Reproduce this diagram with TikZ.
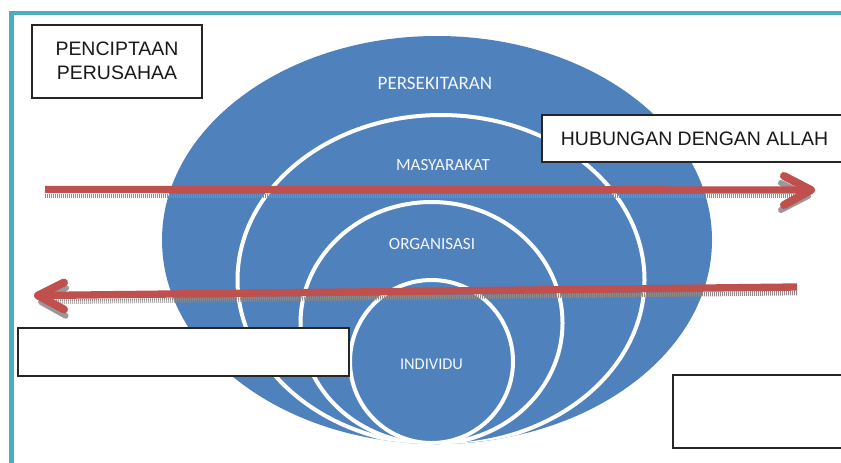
\documentclass[tikz,border=0pt]{standalone}
\usepackage{fontspec}
\setmainfont{Liberation Sans}
\newfontfamily\carl{Carlito}
\usetikzlibrary{calc}
\definecolor{blu}{HTML}{4F81BD}
\definecolor{teal}{HTML}{4BACC6}
\definecolor{arrred}{HTML}{C0504D}
\begin{document}
\begin{tikzpicture}[x=0.75pt,y=-0.75pt,
  ring/.style={draw=white, line width=3pt, fill=blu},
  lbl/.style={text=white!93!blu, font=\carl, inner sep=0pt},
  box/.style={draw=black!85, line width=1.1pt, fill=white, inner sep=0pt},
  boxtxt/.style={text=black!90, inner sep=0pt, align=center, font=\fontsize{14.6pt}{18pt}\selectfont},
  redarrow/.style={draw=arrred, line width=5.5pt, line join=round},
  chev/.style={draw=arrred, line width=6pt, line cap=round, line join=round},
  shad/.style={draw=black!45, line width=3.5pt, dash pattern=on 0.6pt off 0.9pt},
  shadchev/.style={draw=black!40, line width=4.5pt, dash pattern=on 0.6pt off 0.9pt, line cap=round, line join=round}]
\useasboundingbox (0,0) rectangle (841,462);
\fill[white] (0,0) rectangle (841,462);
% frame
\draw[teal, line width=3.4pt] (11.5,13) -- (860,13);
\draw[teal, line width=3.6pt] (11.5,11) -- (11.5,480);
% venn
\fill[blu] (437,240) ellipse [x radius=275, y radius=204];
\begin{scope}
  \clip (437,240) ellipse [x radius=275, y radius=204];
  \draw[ring] (441,280) ellipse [x radius=203.5, y radius=165];
  \draw[ring] (431.5,323) ellipse [x radius=131, y radius=121];
  \draw[ring] (431.5,361.5) ellipse [x radius=81.5, y radius=81.5];
\end{scope}
\node[lbl, font=\carl\fontsize{14.3pt}{16pt}\selectfont] (pers) at (435,83) {PERSEKITARAN};
\node[lbl, font=\carl\fontsize{12.8pt}{14pt}\selectfont] (masy) at (443,165) {MASYARAKAT};
\node[lbl, font=\carl\fontsize{12.8pt}{14pt}\selectfont] (orga) at (432,244) {ORGANISASI};
\node[lbl, font=\carl\fontsize{12.3pt}{14pt}\selectfont] (indi) at (431.5,364) {INDIVIDU};
% right arrow
\coordinate (ra1) at (45,189.5);
\coordinate (ra2) at (811,190);
\coordinate (rs1) at (45,196);
\coordinate (rs2) at (808,196);
\draw[shad] (rs1) -- (rs2);
\draw[shadchev] ($(rs2)+(-27,-13)$) -- (rs2) -- ($(rs2)+(-27,14)$);
\draw[redarrow] (ra1) -- (ra2);
\draw[chev] ($(ra2)+(-27,-14)$) -- (ra2) -- ($(ra2)+(-27,15)$);
% left arrow
\coordinate (la1) at (797,287);
\coordinate (la2) at (38,295.5);
\coordinate (ls1) at (797,293);
\coordinate (ls2) at (41,302);
\draw[shad] (ls1) -- (ls2);
\draw[shadchev] ($(ls2)+(25,-14)$) -- (ls2) -- ($(ls2)+(25,14)$);
\draw[redarrow] (la1) -- (la2);
\draw[chev] ($(la2)+(26,-13)$) -- (la2) -- ($(la2)+(26,14)$);
% boxes
\draw[box] (32,25) rectangle (202,98);
\node[boxtxt] (pencip) at (117,61) {PENCIPTAAN\\PERUSAHAA};
\draw[box] (542,115) rectangle (848,162);
\node[boxtxt] (hub) at (694.5,139) {HUBUNGAN DENGAN ALLAH};
\draw[box] (18,328) rectangle (349,376);
\draw[box] (673,375) rectangle (848,448);
\end{tikzpicture}
\end{document}
